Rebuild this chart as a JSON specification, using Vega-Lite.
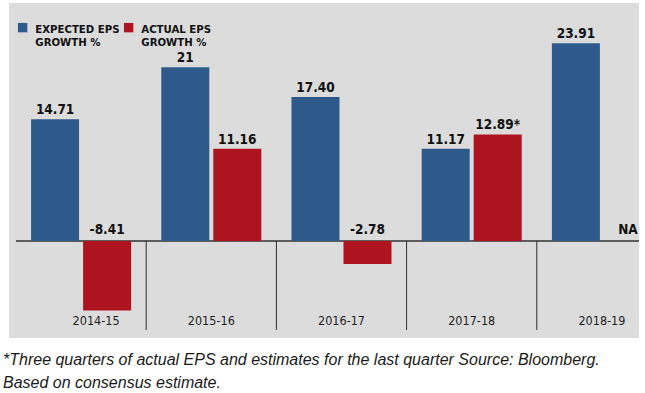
{
  "$schema": "https://vega.github.io/schema/vega-lite/v6.json",
  "width": 630,
  "height": 335,
  "autosize": {"type": "none"},
  "padding": {"left": 9, "top": 3, "right": 6, "bottom": 55},
  "background": "white",
  "config": {
    "view": {"stroke": null, "fill": "#dcdcdc"},
    "font": "Liberation Sans",
    "style": {"guide-label": {"lineHeight": 13.5}},
    "legend": {
      "orient": "none", "direction": "horizontal", "title": null, "padding": 0,
      "symbolType": "M-1,-2.066H1V-0.066H-1Z", "symbolSize": 88, "symbolStrokeWidth": 0, "symbolOpacity": 1,
      "labelFont": "DejaVu Sans Condensed", "labelFontWeight": "bold", "labelFontSize": 11.3,
      "labelColor": "#111111", "labelOffset": 7, "labelBaseline": "alphabetic", "labelLimit": 300
    }
  },
  "title": {
    "text": ["*Three quarters of actual EPS and estimates for the last quarter Source: Bloomberg.", "Based on consensus estimate."],
    "orient": "bottom",
    "anchor": "start",
    "frame": "group",
    "font": "Liberation Sans",
    "fontStyle": "italic",
    "fontWeight": "normal",
    "fontSize": 16,
    "color": "#1a1a1a",
    "lineHeight": 23,
    "offset": 13.5,
    "dx": -6
  },
  "data": {
    "values": [
      {"year": "2014-15", "series": "Expected", "value": 14.71, "label": "14.71"},
      {"year": "2014-15", "series": "Actual", "value": -8.41, "label": "-8.41"},
      {"year": "2015-16", "series": "Expected", "value": 21, "label": "21"},
      {"year": "2015-16", "series": "Actual", "value": 11.16, "label": "11.16"},
      {"year": "2016-17", "series": "Expected", "value": 17.40, "label": "17.40"},
      {"year": "2016-17", "series": "Actual", "value": -2.78, "label": "-2.78"},
      {"year": "2017-18", "series": "Expected", "value": 11.17, "label": "11.17"},
      {"year": "2017-18", "series": "Actual", "value": 12.89, "label": "12.89*"},
      {"year": "2018-19", "series": "Expected", "value": 23.91, "label": "23.91"},
      {"year": "2018-19", "series": "Actual", "value": null, "label": "NA"}
    ]
  },
  "layer": [
    {
      "mark": {"type": "rule", "color": "#5e5e5e", "strokeWidth": 1.5, "clip": true},
      "encoding": {
        "x": {"datum": "2014-15", "type": "nominal", "bandPosition": 0,
              "scale": {"domain": ["2014-15", "2015-16", "2016-17", "2017-18", "2018-19"], "range": [7, 658], "paddingInner": 0, "paddingOuter": 0}},
        "x2": {"datum": "2018-19", "bandPosition": 1},
        "y": {"datum": 0, "type": "quantitative", "scale": {"domain": [-11.73, 28.78], "nice": false, "zero": false}, "axis": null}
      }
    },
    {
      "transform": [{"filter": "datum.series === 'Expected' && datum.year !== '2014-15'"}],
      "mark": {"type": "rule", "color": "#2a2a2a", "strokeWidth": 1},
      "encoding": {
        "x": {"field": "year", "type": "nominal", "bandPosition": 0,
              "scale": {"domain": ["2014-15", "2015-16", "2016-17", "2017-18", "2018-19"], "range": [7, 658], "paddingInner": 0, "paddingOuter": 0}},
        "y": {"datum": 0, "type": "quantitative", "scale": {"domain": [-11.73, 28.78], "nice": false, "zero": false}, "axis": null},
        "y2": {"datum": -10.75}
      }
    },
    {
      "transform": [{"filter": "datum.series === 'Expected'"}],
      "mark": {"type": "bar"},
      "encoding": {
        "x": {"field": "year", "type": "nominal", "sort": null,
              "scale": {"domain": ["2014-15", "2015-16", "2016-17", "2017-18", "2018-19"], "range": [7, 658], "paddingInner": 0, "paddingOuter": 0},
              "axis": {
                "title": null, "orient": "bottom", "domain": false, "ticks": false, "grid": false,
                "labelAngle": 0, "labelAlign": "center", "labelPadding": -18, "labelFont": "DejaVu Sans Condensed", "labelFontSize": 12.5,
                "labelColor": "#1e1e1e", "labelOverlap": false, "labelBound": false,
                "labelOffset": {"condition": {"test": "datum.value === '2014-15'", "value": 15}, "value": 0}
              }},
        "xOffset": {"field": "series", "type": "nominal",
                    "scale": {"domain": ["Expected", "Actual"], "paddingInner": 0.077, "paddingOuter": 0.29}},
        "y": {"field": "value", "type": "quantitative", "scale": {"domain": [-11.73, 28.78], "nice": false, "zero": false}, "axis": null},
        "color": {"field": "series", "type": "nominal",
                  "scale": {"domain": ["Expected"], "range": ["#2e5a8b"]},
                  "legend": {
                    "legendX": 8, "legendY": 24,
                    "labelExpr": "['EXPECTED EPS', 'GROWTH %']"
                  }}
      }
    },
    {
      "transform": [{"filter": "datum.series === 'Actual'"}],
      "mark": {"type": "bar"},
      "encoding": {
        "x": {"field": "year", "type": "nominal", "sort": null,
              "scale": {"domain": ["2014-15", "2015-16", "2016-17", "2017-18", "2018-19"], "range": [7, 658], "paddingInner": 0, "paddingOuter": 0}},
        "xOffset": {"field": "series", "type": "nominal",
                    "scale": {"domain": ["Expected", "Actual"], "paddingInner": 0.077, "paddingOuter": 0.29}},
        "y": {"field": "value", "type": "quantitative", "scale": {"domain": [-11.73, 28.78], "nice": false, "zero": false}, "axis": null},
        "fill": {"field": "series", "type": "nominal",
                  "scale": {"domain": ["Actual"], "range": ["#ad1420"]},
                  "legend": {
                    "legendX": 114, "legendY": 24,
                    "labelExpr": "['ACTUAL EPS', 'GROWTH %']"
                  }}
      }
    },
    {
      "transform": [{"filter": "datum.value > 0"}],
      "mark": {"type": "text", "font": "DejaVu Sans Condensed", "fontWeight": "bold", "fontSize": 13.5, "color": "#111111", "baseline": "alphabetic", "dy": -5},
      "encoding": {
        "x": {"field": "year", "type": "nominal",
              "scale": {"domain": ["2014-15", "2015-16", "2016-17", "2017-18", "2018-19"], "range": [7, 658], "paddingInner": 0, "paddingOuter": 0}},
        "xOffset": {"field": "series", "type": "nominal",
                    "scale": {"domain": ["Expected", "Actual"], "paddingInner": 0.077, "paddingOuter": 0.29}},
        "y": {"field": "value", "type": "quantitative", "scale": {"domain": [-11.73, 28.78], "nice": false, "zero": false}, "axis": null},
        "text": {"field": "label"}
      }
    },
    {
      "transform": [{"filter": "!(datum.value > 0)"}],
      "mark": {"type": "text", "font": "DejaVu Sans Condensed", "fontWeight": "bold", "fontSize": 13.5, "color": "#111111", "baseline": "alphabetic", "dy": -7},
      "encoding": {
        "x": {"field": "year", "type": "nominal",
              "scale": {"domain": ["2014-15", "2015-16", "2016-17", "2017-18", "2018-19"], "range": [7, 658], "paddingInner": 0, "paddingOuter": 0}},
        "xOffset": {"field": "series", "type": "nominal",
                    "scale": {"domain": ["Expected", "Actual"], "paddingInner": 0.077, "paddingOuter": 0.29}},
        "y": {"datum": 0, "type": "quantitative", "scale": {"domain": [-11.73, 28.78], "nice": false, "zero": false}, "axis": null},
        "text": {"field": "label"}
      }
    }
  ]
}
